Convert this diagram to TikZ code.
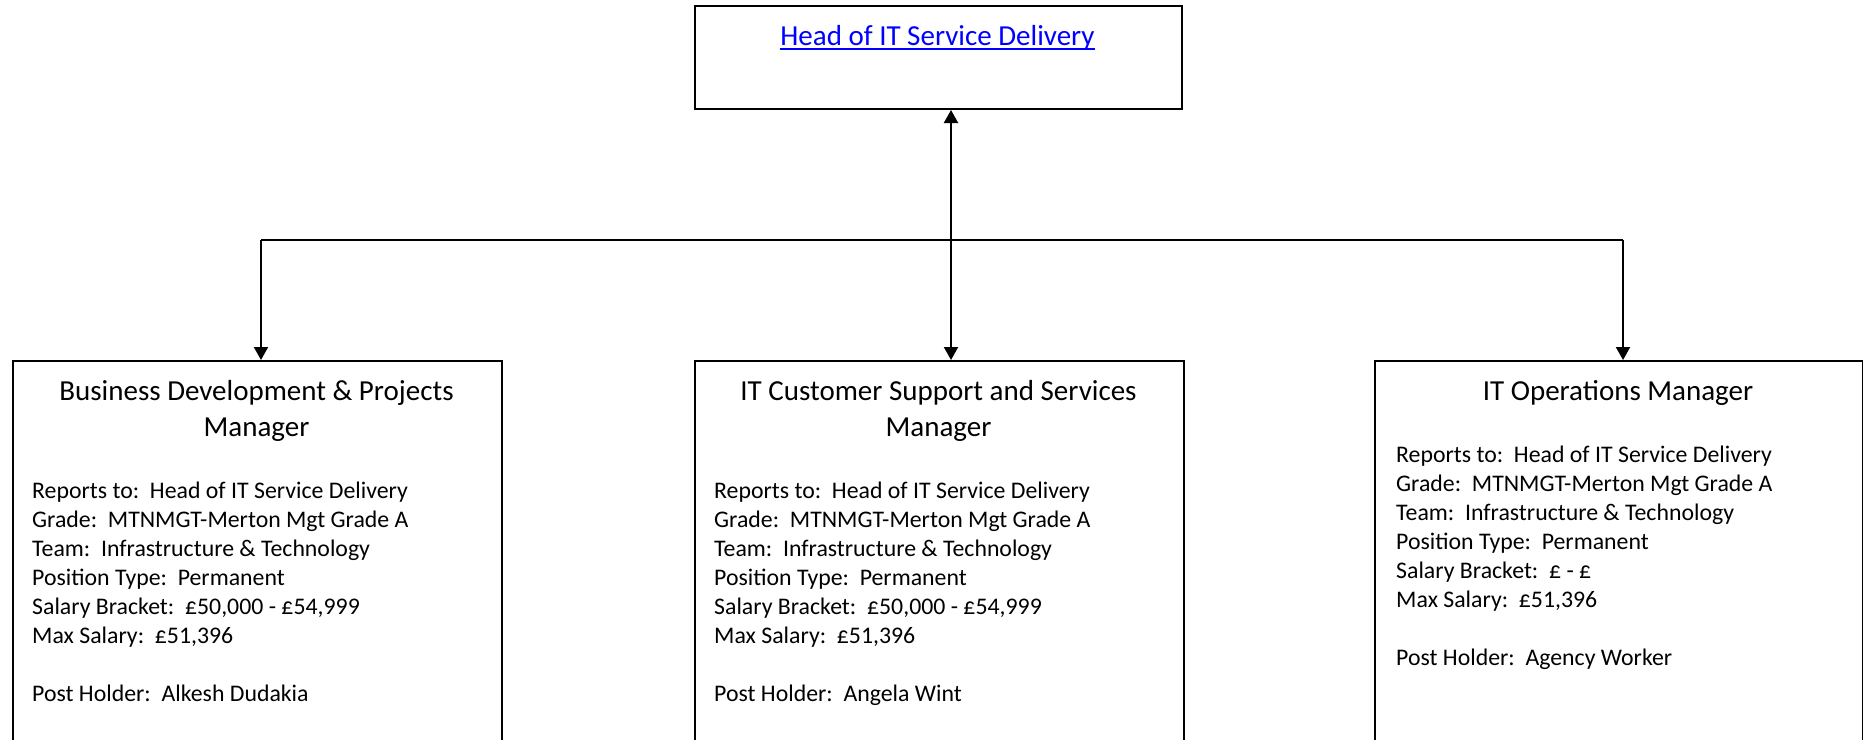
\documentclass[tikz,border=0pt]{standalone}
\usepackage{fontspec}
\setmainfont{Carlito}
\usetikzlibrary{arrows.meta}
\definecolor{linkblue}{RGB}{0,0,255}
\newcommand\myul[1]{\setbox0\hbox{#1}\rlap{\rule[-5pt]{\wd0}{2pt}}\box0}
\begin{document}
\begin{tikzpicture}[x=1pt,y=-1pt,
  box/.style={draw=black, line width=2pt, rectangle, inner sep=0pt},
  body/.style={anchor=base west, inner sep=0pt, font=\fontsize{23.8}{29}\selectfont},
  ttl/.style={anchor=base, inner sep=0pt, font=\fontsize{29}{36}\selectfont},
  conn/.style={line width=2pt, -{Triangle[width=14pt,length=13pt]}},
  conn2/.style={line width=2pt, {Triangle[width=14pt,length=13pt]}-{Triangle[width=14pt,length=13pt]}},
  plain/.style={line width=2pt}]
\clip (0,0) rectangle (1863,739);
% boxes
\node[box, minimum width=487pt, minimum height=103pt, anchor=north west] (head) at (694,5) {};
\node[box, minimum width=489pt, minimum height=430pt, anchor=north west] (bdm) at (12,360) {};
\node[box, minimum width=489pt, minimum height=430pt, anchor=north west] (csm) at (694,360) {};
\node[box, minimum width=488pt, minimum height=430pt, anchor=north west] (opm) at (1374,360) {};
% connectors
\coordinate (hub) at (951,240);
\coordinate (jl) at (261,240);
\coordinate (jr) at (1623,240);
\draw[conn2] (head.south -| hub) -- (csm.north -| hub);
\draw[plain] (jl) -- (jr);
\draw[conn] (jl) -- (bdm.north -| jl);
\draw[conn] (jr) -- (opm.north -| jr);
% top title
\node[ttl, text=linkblue] (headt) at (937.5,45) {\myul{Head of IT Service Delivery}};
% left box
\node[ttl] (bdt1) at (256.5,400) {Business Development \& Projects};
\node[ttl] (bdt2) at (256.5,436) {Manager};
\node[body] (bd1) at (32,498) {Reports to:\ \ Head of IT Service Delivery};
\node[body] (bd2) at (32,527) {Grade:\ \ MTNMGT-Merton Mgt Grade A};
\node[body] (bd3) at (32,556) {Team:\ \ Infrastructure \& Technology};
\node[body] (bd4) at (32,585) {Position Type:\ \ Permanent};
\node[body] (bd5) at (32,614) {Salary Bracket:\ \ £50,000 - £54,999};
\node[body] (bd6) at (32,643) {Max Salary:\ \ £51,396};
\node[body] (bd7) at (32,701) {Post Holder:\ \ Alkesh Dudakia};
% middle box
\node[ttl] (cst1) at (938.5,400) {IT Customer Support and Services};
\node[ttl] (cst2) at (938.5,436) {Manager};
\node[body] (cs1) at (714,498) {Reports to:\ \ Head of IT Service Delivery};
\node[body] (cs2) at (714,527) {Grade:\ \ MTNMGT-Merton Mgt Grade A};
\node[body] (cs3) at (714,556) {Team:\ \ Infrastructure \& Technology};
\node[body] (cs4) at (714,585) {Position Type:\ \ Permanent};
\node[body] (cs5) at (714,614) {Salary Bracket:\ \ £50,000 - £54,999};
\node[body] (cs6) at (714,643) {Max Salary:\ \ £51,396};
\node[body] (cs7) at (714,701) {Post Holder:\ \ Angela Wint};
% right box
\node[ttl] (opt1) at (1618,400) {IT Operations Manager};
\node[body] (op1) at (1396,462) {Reports to:\ \ Head of IT Service Delivery};
\node[body] (op2) at (1396,491) {Grade:\ \ MTNMGT-Merton Mgt Grade A};
\node[body] (op3) at (1396,520) {Team:\ \ Infrastructure \& Technology};
\node[body] (op4) at (1396,549) {Position Type:\ \ Permanent};
\node[body] (op5) at (1396,578) {Salary Bracket:\ \ £ - £};
\node[body] (op6) at (1396,607) {Max Salary:\ \ £51,396};
\node[body] (op7) at (1396,665) {Post Holder:\ \ Agency Worker};
\end{tikzpicture}
\end{document}
